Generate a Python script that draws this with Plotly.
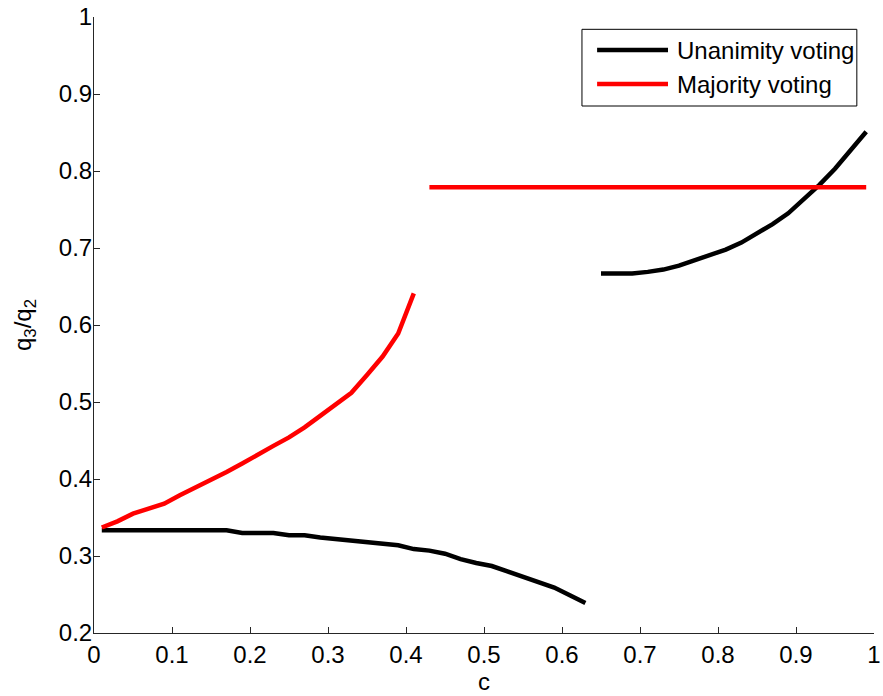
import plotly.graph_objects as go

# Unanimity voting, low-c branch
c_un1 = [0.01, 0.03, 0.05, 0.07, 0.09, 0.11, 0.13, 0.15, 0.17, 0.19, 0.21, 0.23,
         0.25, 0.27, 0.29, 0.31, 0.33, 0.35, 0.37, 0.39, 0.41, 0.43, 0.45, 0.47,
         0.49, 0.51, 0.53, 0.55, 0.57, 0.59, 0.61, 0.63]
q_un1 = [0.3333, 0.3333, 0.3333, 0.3333, 0.3333, 0.3333, 0.3333, 0.3333, 0.3333,
         0.330, 0.330, 0.330, 0.327, 0.327, 0.324, 0.322, 0.320, 0.318, 0.316,
         0.314, 0.309, 0.307, 0.303, 0.296, 0.291, 0.287, 0.280, 0.273, 0.266,
         0.259, 0.249, 0.239]

# Unanimity voting, high-c branch
c_un2 = [0.65, 0.67, 0.69, 0.71, 0.73, 0.75, 0.77, 0.79, 0.81, 0.83, 0.85, 0.87,
         0.89, 0.91, 0.93, 0.95, 0.97, 0.99]
q_un2 = [0.667, 0.667, 0.667, 0.669, 0.672, 0.677, 0.684, 0.691, 0.698, 0.707,
         0.719, 0.731, 0.745, 0.763, 0.782, 0.803, 0.826, 0.851]

# Majority voting, low-c branch
c_maj1 = [0.01, 0.03, 0.05, 0.07, 0.09, 0.11, 0.13, 0.15, 0.17, 0.19, 0.21, 0.23,
          0.25, 0.27, 0.29, 0.31, 0.33, 0.35, 0.37, 0.39, 0.41]
q_maj1 = [0.337, 0.345, 0.355, 0.361, 0.368, 0.379, 0.389, 0.398, 0.409, 0.420,
          0.432, 0.443, 0.454, 0.467, 0.482, 0.497, 0.512, 0.535, 0.559, 0.589,
          0.641]

# Majority voting, high-c branch (flat)
c_maj2 = [0.43, 0.99]
q_maj2 = [0.779, 0.779]

x_ticks = [0, 0.1, 0.2, 0.3, 0.4, 0.5, 0.6, 0.7, 0.8, 0.9, 1]
y_ticks = [0.2, 0.3, 0.4, 0.5, 0.6, 0.7, 0.8, 0.9, 1]

legend_labels = ["Unanimity voting", "Majority voting"]
colors = ["#000000", "#ff0000"]
FONT = "Liberation Sans, Arial, sans-serif"
FS = 24
LW = 4.5

fig = go.Figure()
for cx, qy, col in [(c_un1, q_un1, colors[0]), (c_un2, q_un2, colors[0]),
                    (c_maj1, q_maj1, colors[1]), (c_maj2, q_maj2, colors[1])]:
    fig.add_trace(go.Scatter(x=cx, y=qy, mode="lines",
                             line=dict(color=col, width=LW),
                             showlegend=False, hoverinfo="skip"))

# Custom MATLAB-style legend
shapes = [dict(type="rect", xref="paper", yref="paper",
               x0=0.6256, x1=0.978, y0=0.8555, y1=0.980,
               line=dict(color="black", width=1), fillcolor="white", layer="above")]
annotations = []
for i, (lab, col) in enumerate(zip(legend_labels, colors)):
    yy = 0.9464 - i * 0.0552
    shapes.append(dict(type="line", xref="paper", yref="paper",
                       x0=0.645, x1=0.7359, y0=yy, y1=yy,
                       line=dict(color=col, width=LW), layer="above"))
    annotations.append(dict(text=lab, xref="paper", yref="paper", x=0.745, y=yy,
                            xanchor="left", yanchor="middle", showarrow=False,
                            font=dict(family=FONT, size=FS, color="black")))

tickfont = dict(family=FONT, size=FS, color="black")
fig.update_layout(
    width=883, height=696,
    margin=dict(l=94, r=9, t=17, b=63),
    paper_bgcolor="white", plot_bgcolor="white",
    font=dict(family=FONT, size=FS, color="black"),
    shapes=shapes, annotations=annotations,
    xaxis=dict(range=[0, 1], tickvals=x_ticks, ticks="inside", ticklen=6,
               tickcolor="#262626", showline=True, linecolor="#262626", linewidth=1,
               showgrid=False, zeroline=False, automargin=False, tickfont=tickfont,
               ticklabelstandoff=0, ticklabeloverflow="allow",
               title=dict(text="c", standoff=6, font=dict(family=FONT, size=FS))),
    yaxis=dict(range=[0.2, 1], tickvals=y_ticks, ticks="inside", ticklen=6,
               tickcolor="#262626", showline=True, linecolor="#262626", linewidth=1,
               showgrid=False, zeroline=False, automargin=False, tickfont=tickfont,
               ticklabelstandoff=-4, ticklabeloverflow="allow",
               title=dict(text="q<sub>3</sub>/q<sub>2</sub>", standoff=20,
                          font=dict(family=FONT, size=FS))),
)

# remove the default 8px page margin so the figure fills the window exactly
fig.write_html("out.html",
               config={"displayModeBar": False},
               post_script="document.body.style.margin='0px';document.body.style.overflow='hidden';")
